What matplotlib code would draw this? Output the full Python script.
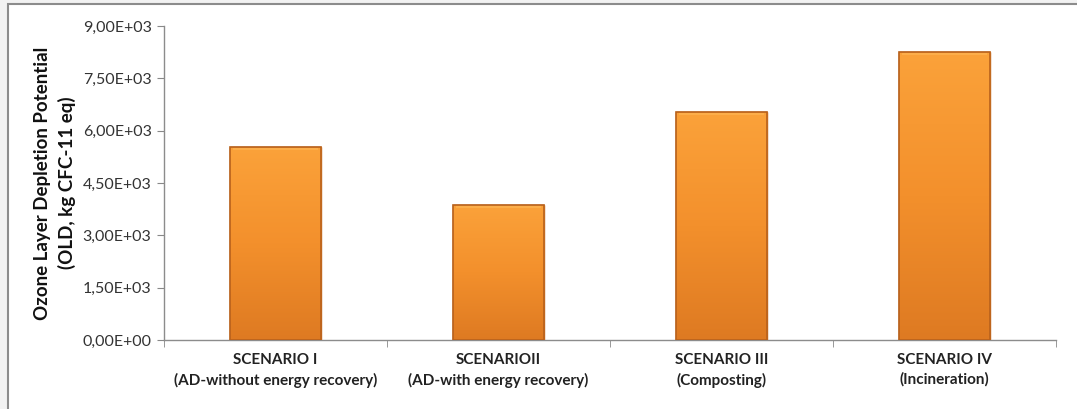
import numpy as np
import matplotlib.pyplot as plt
from matplotlib.colors import LinearSegmentedColormap
from matplotlib.patches import Rectangle

scenarios = ["SCENARIO I\n(AD-without energy recovery)",
             "SCENARIOII\n(AD-with energy recovery)",
             "SCENARIO III\n(Composting)",
             "SCENARIO IV\n(Incineration)"]
old_values = [5530, 3880, 6530, 8250]
y_ticks = [0, 1500, 3000, 4500, 6000, 7500, 9000]
y_tick_labels = ["0,00E+00", "1,50E+03", "3,00E+03", "4,50E+03",
                 "6,00E+03", "7,50E+03", "9,00E+03"]

plt.rcParams['font.family'] = ['Lato', 'DejaVu Sans']

fig = plt.figure(figsize=(10.77, 4.09), dpi=100)
# dotted outer background + chart frame
fig.patch.set_facecolor("#f2f2f2")
fig.patches.append(Rectangle((8 / 1077, -0.01), 1.1, 1 - 4 / 409 + 0.01,
                             transform=fig.transFigure, facecolor="white",
                             edgecolor="#8c8c8c", lw=1.5, zorder=-10))

ax = fig.add_axes([164 / 1077, 1 - 340 / 409, (1056 - 164) / 1077, (340 - 26) / 409])
ax.set_facecolor("none")

x = np.arange(len(scenarios))
bars = ax.bar(x, old_values, width=0.41, color="#f28c28",
              edgecolor="#c0651a", linewidth=1.0, zorder=2)

grad = LinearSegmentedColormap.from_list("org", ["#de7a22", "#f3902c", "#fba23a"])
g = np.linspace(0, 1, 256).reshape(-1, 1)
for b in bars:
    x0, y0, w, h = b.get_x(), b.get_y(), b.get_width(), b.get_height()
    im = ax.imshow(g, cmap=grad, aspect="auto", origin="lower",
                   extent=[x0, x0 + w, y0, y0 + h], zorder=3)
    im.set_clip_path(b)
    # bevel highlight at top
    ax.add_patch(Rectangle((x0 + w * 0.03, y0 + h - 90), w * 0.94, 70,
                           facecolor="#ffc060", edgecolor="none", alpha=0.45, zorder=4))
    ax.add_patch(Rectangle((x0, y0), w, h, facecolor="none",
                           edgecolor="#b8611c", lw=1.2, zorder=5))

ax.set_xlim(-0.5, len(scenarios) - 0.5)
ax.set_ylim(0, 9000)
ax.set_yticks(y_ticks)
ax.set_yticklabels(y_tick_labels, fontsize=11.5, color="#333333")

ax.set_xticks(x)
ax.set_xticklabels(scenarios, fontsize=11, fontweight="bold", color="#222222",
                   linespacing=1.5)
ax.tick_params(axis="x", length=0, pad=9)
ax.set_xticks(np.arange(len(scenarios) + 1) - 0.5, minor=True)
ax.tick_params(axis="x", which="minor", length=5, color="#888888", direction="out")
ax.tick_params(axis="y", length=5, color="#888888", direction="out", pad=4)

for s in ["top", "right"]:
    ax.spines[s].set_visible(False)
for s in ["left", "bottom"]:
    ax.spines[s].set_color("#8c8c8c")
    ax.spines[s].set_linewidth(1.0)

ax.set_ylabel("Ozone Layer Depletion Potential\n(OLD, kg CFC-11 eq)",
              fontsize=13.5, fontweight="bold", color="#111111", labelpad=5,
              linespacing=1.4)

fig.savefig("out.png", dpi=100, facecolor=fig.get_facecolor())
